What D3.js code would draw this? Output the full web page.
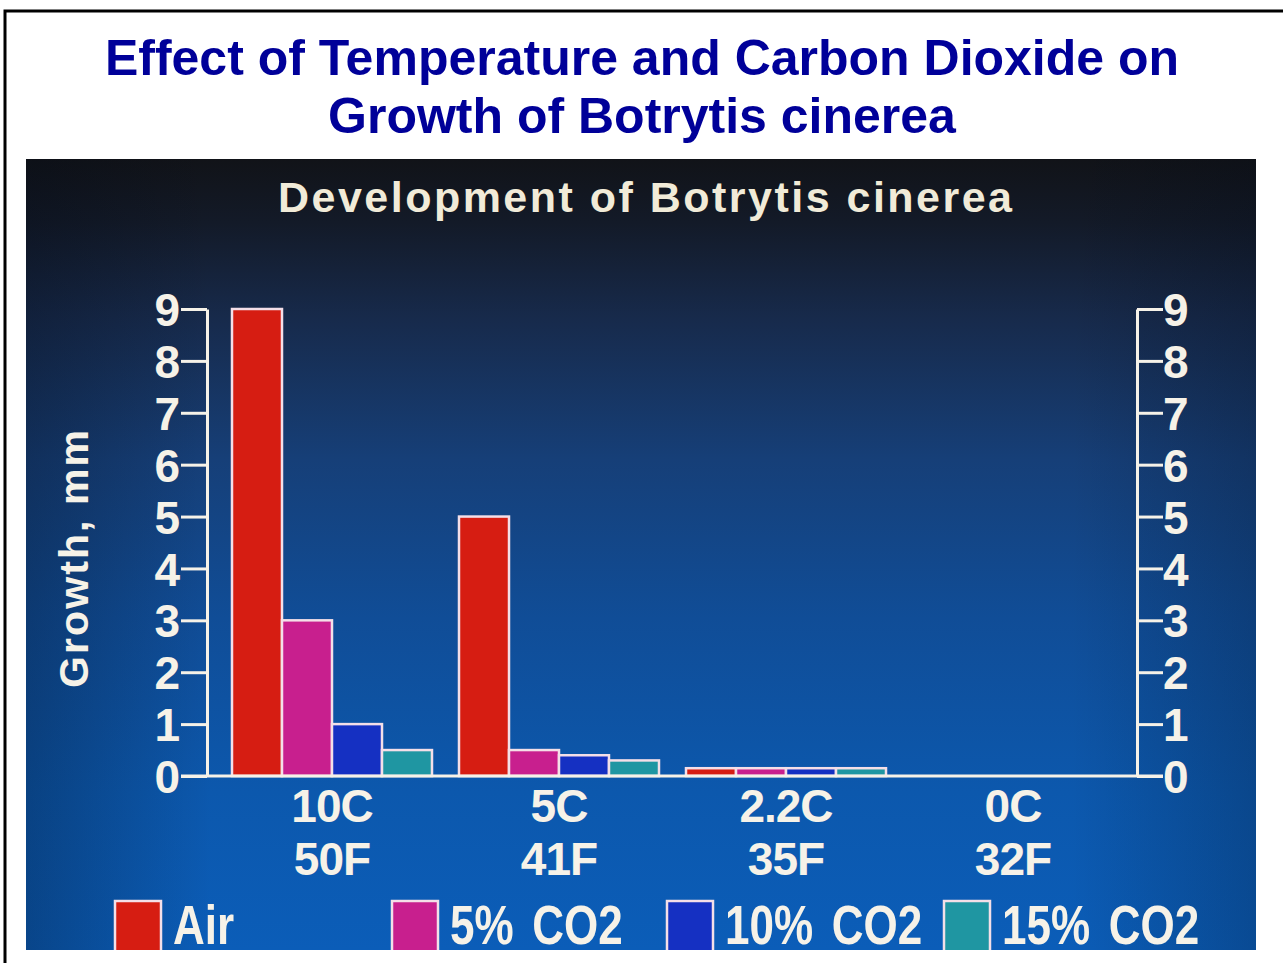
<!DOCTYPE html>
<html>
<head>
  <meta charset="utf-8">
  <script src="https://cdn.jsdelivr.net/npm/d3@7"></script>
  <style>
    body { margin: 0; background: #fff; }
    svg text { font-family: "Liberation Sans", Arial, Helvetica, sans-serif; font-weight: bold; }
  </style>
</head>
<body>
<script>
  // temperatures on the x axis (two label rows)
  var tempC = ["10C", "5C", "2.2C", "0C"];
  var tempF = ["50F", "41F", "35F", "32F"];

  // atmospheres
  var series = ["Air", "5% CO2", "10% CO2", "15% CO2"];

  // growth, mm
  var air    = [9,   5,   0.15, 0];
  var co2_5  = [3,   0.5, 0.15, 0];
  var co2_10 = [1,   0.4, 0.15, 0];
  var co2_15 = [0.5, 0.3, 0.15, 0];

  var yTicks = [0, 1, 2, 3, 4, 5, 6, 7, 8, 9];

  var values = [air, co2_5, co2_10, co2_15];
  var colors = ["#d61d12", "#c81f8e", "#1530c2", "#1f96a2"];

  var width = 1283, height = 963;
  var panel = {x: 26, y: 159, w: 1230, h: 791};
  var axisL = 207, axisR = 1137;

  var svg = d3.select("body").append("svg")
      .attr("width", width)
      .attr("height", height);

  // frame of the slide
  svg.append("path")
      .attr("d", "M5," + height + "V11H" + width)
      .attr("fill", "none")
      .attr("stroke", "#000")
      .attr("stroke-width", 3);

  // slide heading
  svg.selectAll(".heading")
      .data(["Effect of Temperature and Carbon Dioxide on", "Growth of Botrytis cinerea"])
      .enter().append("text")
      .attr("class", "heading")
      .attr("x", 642)
      .attr("y", function(d, i) { return 75 + i * 58; })
      .attr("text-anchor", "middle")
      .style("font-size", "50px")
      .style("fill", "#000099")
      .text(function(d) { return d; });

  // photo panel background
  var defs = svg.append("defs");
  var grad = defs.append("linearGradient")
      .attr("id", "bg").attr("x1", 0).attr("y1", 0).attr("x2", 0).attr("y2", 1);
  [[0, "#111318"], [0.08, "#131a28"], [0.2, "#172a4b"], [0.38, "#163f78"],
   [0.58, "#104d97"], [0.8, "#0c58ad"], [1, "#0b5db8"]].forEach(function(s) {
    grad.append("stop").attr("offset", s[0]).attr("stop-color", s[1]);
  });
  var side = defs.append("linearGradient")
      .attr("id", "side").attr("x1", 0).attr("y1", 0).attr("x2", 1).attr("y2", 0);
  [[0, 0.28], [0.15, 0], [0.85, 0], [1, 0.22]].forEach(function(s) {
    side.append("stop").attr("offset", s[0]).attr("stop-color", "#020814").attr("stop-opacity", s[1]);
  });
  defs.append("clipPath").attr("id", "clip")
    .append("rect")
      .attr("x", panel.x).attr("y", panel.y).attr("width", panel.w).attr("height", panel.h);

  var g = svg.append("g").attr("clip-path", "url(#clip)");

  g.append("rect")
      .attr("x", panel.x).attr("y", panel.y).attr("width", panel.w).attr("height", panel.h)
      .attr("fill", "url(#bg)");
  g.append("rect")
      .attr("x", panel.x).attr("y", panel.y).attr("width", panel.w).attr("height", panel.h)
      .attr("fill", "url(#side)");

  var ink = "#f6f2e8";

  g.append("text")
      .attr("x", 645)
      .attr("y", 212)
      .attr("text-anchor", "middle")
      .attr("textLength", 734)
      .attr("lengthAdjust", "spacing")
      .style("font-size", "43px")
      .style("fill", "#f1ebd8")
      .text("Development of Botrytis cinerea");

  // scales
  var x0 = d3.scaleBand().domain(tempC).range([232, 1113]).paddingInner(0.119);
  var x1 = d3.scaleBand().domain(series).range([0, x0.bandwidth()]);
  var y = d3.scaleLinear().domain([0, 9]).range([776, 309]);

  // bars
  var bars = [];
  series.forEach(function(s, i) {
    tempC.forEach(function(c, j) {
      if (values[i][j] > 0) bars.push({cat: c, ser: s, v: values[i][j], col: colors[i]});
    });
  });

  g.selectAll(".bar")
      .data(bars)
      .enter().append("rect")
      .attr("class", "bar")
      .attr("x", function(d) { return x0(d.cat) + x1(d.ser); })
      .attr("y", function(d) { return y(d.v); })
      .attr("width", x1.bandwidth())
      .attr("height", function(d) { return y(0) - y(d.v); })
      .attr("fill", function(d) { return d.col; })
      .attr("stroke", "#f4dfe8")
      .attr("stroke-width", 2.5);

  // axes
  function styleAxis(sel) {
    sel.selectAll("path, line").attr("stroke", ink).attr("stroke-width", 3);
    sel.selectAll("text")
        .style("font-size", "46px")
        .style("fill", ink)
        .attr("dy", "0.36em");
  }

  g.append("g")
      .attr("transform", "translate(" + axisL + ",0)")
      .call(d3.axisLeft(y).tickValues(yTicks).tickFormat(d3.format("d"))
            .tickSize(26).tickSizeOuter(0).tickPadding(1))
      .call(function(a) { a.attr("font-family", null).attr("font-size", null); })
      .call(styleAxis);

  g.append("g")
      .attr("transform", "translate(" + axisR + ",0)")
      .call(d3.axisRight(y).tickValues(yTicks).tickFormat(d3.format("d"))
            .tickSize(26).tickSizeOuter(0).tickPadding(0))
      .call(function(a) { a.attr("font-family", null).attr("font-size", null); })
      .call(styleAxis);

  // baseline
  g.append("line")
      .attr("x1", axisL - 26).attr("x2", axisR + 26)
      .attr("y1", y(0)).attr("y2", y(0))
      .attr("stroke", ink).attr("stroke-width", 3);

  // category labels
  [tempC, tempF].forEach(function(row, r) {
    g.selectAll(".cat" + r)
        .data(row)
        .enter().append("text")
        .attr("x", function(d, i) { return x0(tempC[i]) + x0.bandwidth() / 2; })
        .attr("y", 822 + r * 53)
        .attr("text-anchor", "middle")
        .style("font-size", "46px")
        .style("letter-spacing", "-1px")
        .style("fill", ink)
        .text(function(d) { return d; });
  });

  // y axis title
  g.append("text")
      .attr("transform", "translate(88,559) rotate(-90)")
      .attr("text-anchor", "middle")
      .attr("textLength", 258)
      .attr("lengthAdjust", "spacing")
      .style("font-size", "41px")
      .style("fill", ink)
      .text("Growth, mm");

  // legend
  var legendX = [115, 392, 667, 944];
  var leg = g.selectAll(".leg")
      .data(series)
      .enter().append("g")
      .attr("class", "leg")
      .attr("transform", function(d, i) { return "translate(" + legendX[i] + ",901)"; });

  leg.append("rect")
      .attr("width", 46)
      .attr("height", 52)
      .attr("fill", function(d, i) { return colors[i]; })
      .attr("stroke", "#f4dfe8")
      .attr("stroke-width", 2.5);

  leg.append("text")
      .attr("transform", "translate(58,43) scale(0.8,1)")
      .style("font-size", "55px")
      .style("word-spacing", "8px")
      .style("fill", ink)
      .text(function(d) { return d; });
</script>
</body>
</html>
